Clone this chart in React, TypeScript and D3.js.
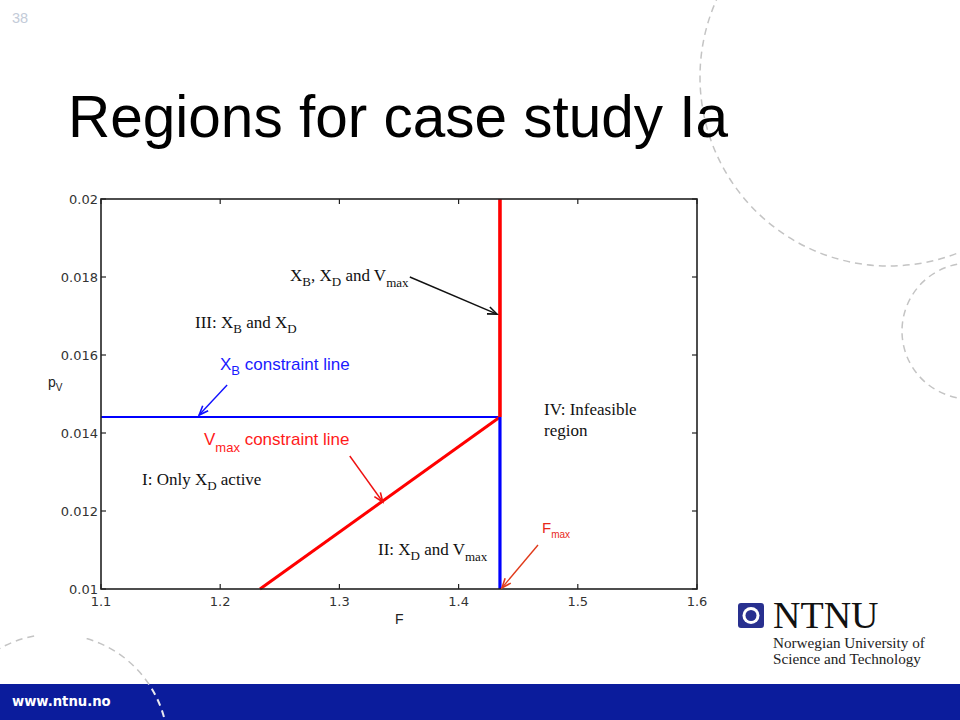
import React from "react";
import * as d3 from "d3";

// ---- data ----
const xTicks = [1.1, 1.2, 1.3, 1.4, 1.5, 1.6];
const yTicks = [0.01, 0.012, 0.014, 0.016, 0.018, 0.02];
const xDomain = [1.1, 1.6];
const yDomain = [0.01, 0.02];
const F_MAX = 1.4347;
const PV_XB = 0.01441;
const F_VMAX_AT_MIN = 1.2334;

type P = { F: number; pV: number };
const xbLine: P[] = [{ F: 1.1, pV: PV_XB }, { F: F_MAX, pV: PV_XB }];
const vmaxLine: P[] = [{ F: F_VMAX_AT_MIN, pV: 0.01 }, { F: F_MAX, pV: PV_XB }];
const fmaxLine: P[] = [{ F: F_MAX, pV: 0.01 }, { F: F_MAX, pV: PV_XB }];
const vmaxVertical: P[] = [{ F: F_MAX, pV: PV_XB }, { F: F_MAX, pV: 0.02 }];

// arrows (data coordinates): from -> to
const arrows = [
  { from: { F: 1.3591, pV: 0.018 }, to: { F: 1.4322, pV: 0.01705 }, color: "#111" },
  { from: { F: 1.2058, pV: 0.01523 }, to: { F: 1.1823, pV: 0.01446 }, color: "#1010ff" },
  { from: { F: 1.3087, pV: 0.01341 }, to: { F: 1.3364, pV: 0.01223 }, color: "#ee1111" },
  { from: { F: 1.4666, pV: 0.01113 }, to: { F: 1.4364, pV: 0.01003 }, color: "#e03a1a" },
];

const W = 960;
const H = 720;
const M = { left: 101, right: 697, top: 199, bottom: 589 };

const x = d3.scaleLinear().domain(xDomain).range([M.left, M.right]);
const y = d3.scaleLinear().domain(yDomain).range([M.bottom, M.top]);
const line = d3
  .line<P>()
  .x((d) => x(d.F))
  .y((d) => y(d.pV));

const serif = "'Liberation Serif', 'Times New Roman', serif";
const sans = "'Liberation Sans', Arial, sans-serif";
const tickFont = "'DejaVu Sans', sans-serif";

function Arrow({ x1, y1, x2, y2, color }: { x1: number; y1: number; x2: number; y2: number; color: string }) {
  const ang = Math.atan2(y2 - y1, x2 - x1);
  const L = 10;
  const a = 0.38;
  const p1 = [x2 - L * Math.cos(ang - a), y2 - L * Math.sin(ang - a)];
  const p2 = [x2 - L * Math.cos(ang + a), y2 - L * Math.sin(ang + a)];
  return (
    <g>
      <line x1={x1} y1={y1} x2={x2} y2={y2} stroke={color} strokeWidth={1.4} />
      <path d={`M${p1[0]},${p1[1]} L${x2},${y2} L${p2[0]},${p2[1]}`} fill="none" stroke={color} strokeWidth={1.6} />
    </g>
  );
}

export default function App() {
  const bigCircle = { cx: 889, cy: 77, r: 189 };
  const rightCircle = { cx: 970, cy: 331, r: 68 };
  const lowCircle = { cx: 55, cy: 747, r: 113 };
  const sub = 13;
  return (
    <svg
      width={W}
      height={H}
      viewBox={`0 0 ${W} ${H}`}
      style={{ position: "absolute", left: 0, top: 0, background: "#fff" }}
    >
      <defs>
        <clipPath id="footerClip">
          <rect x={0} y={684} width={W} height={36} />
        </clipPath>
      </defs>
      <rect x={0} y={0} width={W} height={H} fill="#fff" />
      {/* decorative dashed circles */}
      <g fill="none" stroke="#c4c4c4" strokeWidth={1.5} strokeDasharray="7 5">
        <circle cx={bigCircle.cx} cy={bigCircle.cy} r={bigCircle.r} />
        <circle cx={rightCircle.cx} cy={rightCircle.cy} r={rightCircle.r} />
        <circle cx={lowCircle.cx} cy={lowCircle.cy} r={lowCircle.r} />
      </g>
      {/* chart image background */}
      <rect x={38} y={186} width={674} height={452} fill="#fff" />

      {/* slide number */}
      <text x={12} y={23} fontFamily={sans} fontSize={14.5} fill="#c3cbd8">38</text>

      {/* title */}
      <text x={68} y={137} fontFamily={sans} fontSize={58.5} fill="#000">Regions for case study Ia</text>

      {/* plot lines */}
      <path d={line(xbLine) || ""} stroke="#0000ff" strokeWidth={2.2} fill="none" />
      <path d={line(vmaxLine) || ""} stroke="#ff0000" strokeWidth={3} fill="none" />
      <path d={line(fmaxLine) || ""} stroke="#0000ff" strokeWidth={3.2} fill="none" />
      <path d={line(vmaxVertical) || ""} stroke="#ff0000" strokeWidth={3.6} fill="none" />

      {/* frame */}
      <rect
        x={M.left}
        y={M.top}
        width={M.right - M.left}
        height={M.bottom - M.top}
        fill="none"
        stroke="#222"
        strokeWidth={1.6}
      />
      {/* ticks */}
      <g stroke="#222" strokeWidth={1.2}>
        {xTicks.map((t) => (
          <g key={"xt" + t}>
            <line x1={x(t)} x2={x(t)} y1={M.bottom} y2={M.bottom - 5} />
            <line x1={x(t)} x2={x(t)} y1={M.top} y2={M.top + 5} />
          </g>
        ))}
        {yTicks.map((t) => (
          <g key={"yt" + t}>
            <line x1={M.left} x2={M.left + 5} y1={y(t)} y2={y(t)} />
            <line x1={M.right} x2={M.right - 5} y1={y(t)} y2={y(t)} />
          </g>
        ))}
      </g>
      <g fontFamily={tickFont} fontSize={13} fill="#333">
        {xTicks.map((t) => (
          <text key={"xl" + t} x={x(t)} y={M.bottom + 17} textAnchor="middle">
            {d3.format(".1f")(t)}
          </text>
        ))}
        {yTicks.map((t) => (
          <text key={"yl" + t} x={M.left - 3} y={y(t) + 5} textAnchor="end">
            {String(+t.toFixed(3))}
          </text>
        ))}
      </g>
      {/* axis labels */}
      <text x={395} y={624} fontFamily={sans} fontSize={14} fill="#222">F</text>
      <text x={48} y={387} fontFamily={sans} fontSize={14} fill="#222">
        p<tspan fontSize={10} dy={4}>V</tspan>
      </text>

      {/* annotations */}
      <g fontFamily={serif} fontSize={17} fill="#111">
        <text x={290} y={281}>
          X<tspan fontSize={sub} dy={5}>B</tspan>
          <tspan dy={-5}>, X</tspan>
          <tspan fontSize={sub} dy={5}>D</tspan>
          <tspan dy={-5}> and V</tspan>
          <tspan fontSize={sub} dy={6}>max</tspan>
        </text>
        <text x={195} y={328}>
          III: X<tspan fontSize={sub} dy={5}>B</tspan>
          <tspan dy={-5}> and X</tspan>
          <tspan fontSize={sub} dy={5}>D</tspan>
        </text>
        <text x={142} y={485}>
          I: Only X<tspan fontSize={sub} dy={5}>D</tspan>
          <tspan dy={-5}> active</tspan>
        </text>
        <text x={378} y={555}>
          II: X<tspan fontSize={sub} dy={5}>D</tspan>
          <tspan dy={-5}> and V</tspan>
          <tspan fontSize={sub} dy={6}>max</tspan>
        </text>
        <text x={544} y={415}>IV: Infeasible</text>
        <text x={544} y={436}>region</text>
      </g>
      <g fontFamily={sans}>
        <text x={220} y={370} fontSize={17} fill="#1a1aff">
          X<tspan fontSize={13} dy={5}>B</tspan>
          <tspan dy={-5}> constraint line</tspan>
        </text>
        <text x={204} y={445} fontSize={17} fill="#ff1a1a">
          V<tspan fontSize={13} dy={7}>max</tspan>
          <tspan dy={-7}> constraint line</tspan>
        </text>
        <text x={542} y={533} fontSize={15} fill="#e8281a">
          F<tspan fontSize={10} dy={5}>max</tspan>
        </text>
      </g>
      {arrows.map((a, i) => (
        <Arrow key={i} x1={x(a.from.F)} y1={y(a.from.pV)} x2={x(a.to.F)} y2={y(a.to.pV)} color={a.color} />
      ))}

      {/* NTNU logo */}
      <g>
        <rect x={738} y={603} width={26} height={25} rx={3} fill="#28308f" />
        <circle cx={751} cy={615.5} r={8.5} fill="#fff" />
        <circle cx={751} cy={615.5} r={5.5} fill="#28308f" />
        <text x={773} y={628} fontFamily={serif} fontSize={38} fill="#111">NTNU</text>
        <text x={773} y={648} fontFamily={serif} fontSize={15.2} fill="#222">Norwegian University of</text>
        <text x={773} y={664} fontFamily={serif} fontSize={15.2} fill="#222">Science and Technology</text>
      </g>

      {/* footer */}
      <rect x={0} y={684} width={W} height={36} fill="#0b1c9c" />
      <g clipPath="url(#footerClip)" fill="none" stroke="#e8e8f0" strokeWidth={2} strokeDasharray="7 5">
        <circle cx={lowCircle.cx} cy={lowCircle.cy} r={lowCircle.r} />
      </g>
      <text x={12} y={706} fontFamily={"'DejaVu Sans', Verdana, sans-serif"} fontWeight="bold" fontSize={13.2} fill="#fff">
        www.ntnu.no
      </text>
    </svg>
  );
}
